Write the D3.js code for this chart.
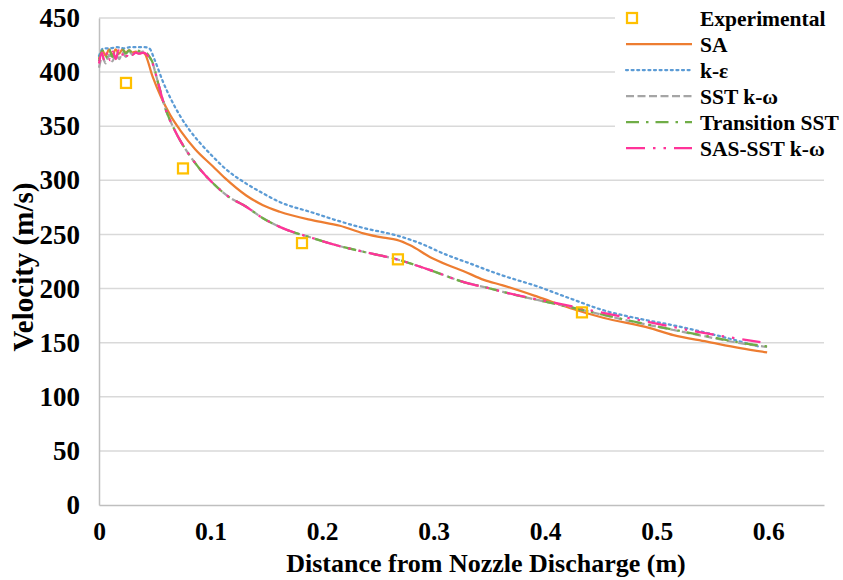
<!DOCTYPE html>
<html><head><meta charset="utf-8">
<script src="https://cdn.jsdelivr.net/npm/d3@7"></script>
<style>body{margin:0;background:#fff}text{font-family:"Liberation Serif","Times New Roman",serif;font-weight:bold;fill:#000}</style>
</head><body><svg id="c" width="843" height="580"></svg>
<script>
const xTicks=[0,0.1,0.2,0.3,0.4,0.5,0.6];
const yTicks=[0,50,100,150,200,250,300,350,400,450];
const expX=[0.0242,0.0753,0.182,0.268,0.433];
const expY=[390,311,242,227,178];
const saX=[0,0.003,0.006,0.009,0.012,0.015,0.018,0.021,0.024,0.027,0.030,0.033,0.036,0.039,0.041,0.048,0.056,0.064,0.073,0.086,0.102,0.113,0.132,0.147,0.162,0.192,0.216,0.237,0.255,0.267,0.279,0.297,0.312,0.327,0.345,0.362,0.393,0.422,0.452,0.494,0.515,0.545,0.575,0.599];
const saY=[412,420,415,421,416,421,417,421,418,420,418,419,418,418,417,396,376,360,346,329,313,302,286,277,271,263,258,251,247,245,240,229,222,216,208,203,192.5,182,173,163.5,157,151,145,141];
const keX=[0,0.004,0.010,0.016,0.022,0.028,0.034,0.041,0.045,0.050,0.057,0.065,0.073,0.086,0.091,0.102,0.113,0.132,0.147,0.162,0.192,0.213,0.237,0.267,0.285,0.312,0.333,0.351,0.362,0.393,0.422,0.452,0.485,0.515,0.545,0.575,0.593];
const keY=[415,422,422,423,422,423,423,423,422,411,392,374,359,340,334,322,311,297,288,280,270,263,256,249,243,231,223,216,212,202,191,180,172,166,159,151,146];
const sstX=[0,0.003,0.006,0.009,0.012,0.015,0.018,0.021,0.024,0.027,0.030,0.033,0.036,0.039,0.042,0.045,0.047,0.053,0.059,0.068,0.080,0.090,0.102,0.116,0.132,0.147,0.162,0.192,0.213,0.237,0.267,0.297,0.327,0.351,0.362,0.393,0.422,0.452,0.485,0.515,0.545,0.575,0.599];
const sstY=[404,414,408,416,410,417,412,418,414,419,416,419,417,419,418,414,411,390,368,346,325,311,297.5,285,275.6,265,257,246.5,240,234,227,217,206,200,197,189.5,183,175.6,168,161.7,155.5,149.5,146];
const trX=[0,0.003,0.006,0.009,0.012,0.015,0.018,0.021,0.024,0.027,0.030,0.034,0.038,0.042,0.046,0.048,0.053,0.059,0.068,0.080,0.090,0.102,0.116,0.132,0.147,0.162,0.192,0.213,0.237,0.267,0.297,0.327,0.351,0.362,0.393,0.422,0.452,0.485,0.515,0.545,0.575,0.599];
const trY=[410,420,413,421,414,421,416,421,417,420,418,420,419,418,413,409,390,368,346,325,311,297.5,285,275.6,265,257,246.5,240,234,227,217,206,200,197,189.5,183,175.8,168.3,162,156,150,146.5];
const sasX=[0,0.0025,0.005,0.0075,0.010,0.0125,0.015,0.0175,0.020,0.0225,0.025,0.0275,0.030,0.033,0.036,0.040,0.044,0.047,0.053,0.059,0.068,0.080,0.090,0.102,0.116,0.132,0.147,0.162,0.192,0.213,0.237,0.267,0.297,0.327,0.351,0.362,0.393,0.422,0.452,0.491,0.542,0.593];
const sasY=[408,418,410,419,411,419,412,420,414,420,415,419,416,418,417,418,415,411,390,368,346,325,311,297.5,285,275.6,265,257,246.5,240,234,227,217,206,200,197,190,184,177.5,169.5,159,150.5];
const seriesNames=["SA","k-ε","SST k-ω","Transition SST","SAS-SST k-ω"];
const seriesXs=[saX,keX,sstX,trX,sasX];
const seriesYs=[saY,keY,sstY,trY,sasY];
const colors=["#ED7D31","#5B9BD5","#A5A5A5","#70AD47","#FF3399"];
const dashes=[null,"2,3.6","8,3.5","13,7,2.5,7","19,8,2.5,8,2.5,8"];
const caps=["butt","round","butt","butt","butt"];

const svg=d3.select("#c");
const m={l:99,r:824,t:18,b:505};
const x=d3.scaleLinear().domain([0,0.65]).range([m.l,m.r]);
const y=d3.scaleLinear().domain([0,450]).range([m.b,m.t]);

// gridlines
svg.append("g").selectAll("line").data(yTicks.filter(d=>d>0)).join("line")
 .attr("x1",m.l).attr("x2",m.r).attr("y1",d=>y(d)).attr("y2",d=>y(d))
 .attr("stroke","#d9d9d9").attr("stroke-width",1.5);

// axes
const gx=svg.append("g").attr("transform",`translate(0,${m.b})`)
 .call(d3.axisBottom(x).tickValues(xTicks).tickFormat(d=>d===0?"0":d3.format(".1f")(d)).tickSize(0).tickPadding(17));
gx.select(".domain").attr("stroke","#bfbfbf").attr("stroke-width",1.5);
gx.selectAll("text").style("font-size","25.5px");
const gy=svg.append("g").attr("transform",`translate(${m.l},0)`)
 .call(d3.axisLeft(y).tickValues(yTicks).tickFormat(d3.format("d")).tickSize(0).tickPadding(19));
gy.select(".domain").attr("stroke","#bfbfbf").attr("stroke-width",1.5);
gy.selectAll("text").style("font-size","27px");

// legend background
svg.append("rect").attr("x",615).attr("y",0).attr("width",228).attr("height",162).attr("fill","#fff");

// lines
const line=d3.line().x(d=>x(d[0])).y(d=>y(d[1])).curve(d3.curveMonotoneX);
seriesXs.forEach((xs,i)=>{
  const pts=xs.map((v,j)=>[v,seriesYs[i][j]]);
  svg.append("path").datum(pts).attr("d",line).attr("fill","none")
   .attr("stroke",colors[i]).attr("stroke-width",2.25)
   .attr("stroke-dasharray",dashes[i]).attr("stroke-linecap",caps[i]);
});
// experimental
svg.append("g").selectAll("rect").data(expX.map((v,j)=>[v,expY[j]])).join("rect")
 .attr("x",d=>x(d[0])-5).attr("y",d=>y(d[1])-5).attr("width",10).attr("height",10)
 .attr("fill","none").attr("stroke","#FFC000").attr("stroke-width",2.25);

// legend
const lg=svg.append("g");
const rows=["Experimental",...seriesNames];
rows.forEach((name,i)=>{
  const yy=18+i*26;
  if(i===0){
    lg.append("rect").attr("x",627).attr("y",yy-5).attr("width",10).attr("height",10)
     .attr("fill","none").attr("stroke","#FFC000").attr("stroke-width",2.25);
  } else {
    lg.append("line").attr("x1",626).attr("x2",692).attr("y1",yy).attr("y2",yy)
     .attr("stroke",colors[i-1]).attr("stroke-width",2.25)
     .attr("stroke-dasharray",dashes[i-1]).attr("stroke-linecap",caps[i-1]);
  }
  lg.append("text").attr("x",700).attr("y",yy).attr("dy","0.35em").style("font-size","21.5px").text(name);
});

// titles
svg.append("text").attr("x",486).attr("y",572).attr("text-anchor","middle").style("font-size","26px")
 .text("Distance from Nozzle Discharge (m)");
svg.append("text").attr("transform",`translate(33,267) rotate(-90)`).attr("text-anchor","middle").style("font-size","29px")
 .text("Velocity (m/s)");
</script></body></html>
